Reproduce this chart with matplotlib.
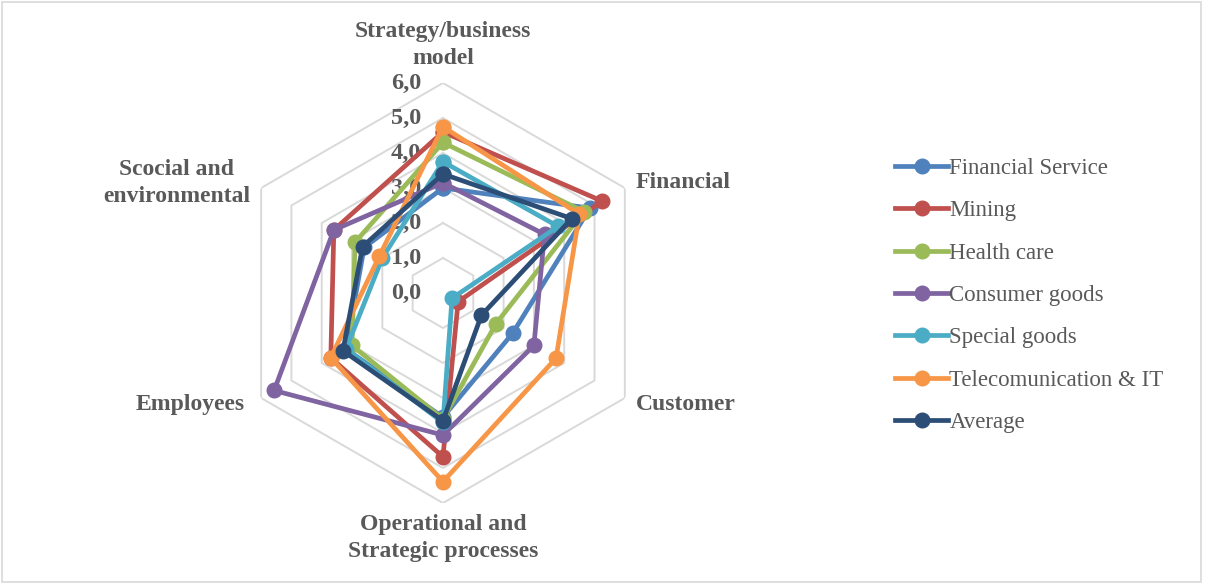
import numpy as np
import matplotlib
matplotlib.use("Agg")
import matplotlib.pyplot as plt
from matplotlib.patches import Rectangle

plt.rcParams['font.family'] = ['Liberation Serif', 'DejaVu Serif']

categories = ['Strategy/business\nmodel', 'Financial', 'Customer',
              'Operational and\nStrategic processes', 'Employees',
              'Scocial and\nenvironmental']
series_names = ['Financial Service', 'Mining', 'Health care', 'Consumer goods',
                'Special goods', 'Telecomunication & IT', 'Average']
financial_service = [3.0, 4.85, 2.3, 3.55, 3.2, 2.6]
mining = [4.6, 5.25, 0.5, 4.68, 3.7, 3.6]
health_care = [4.3, 4.65, 1.75, 3.6, 3.0, 2.9]
consumer_goods = [3.15, 3.35, 3.0, 4.06, 5.57, 3.6]
special_goods = [3.75, 3.8, 0.3, 3.7, 3.2, 2.0]
telecom_it = [4.75, 4.5, 3.73, 5.39, 3.7, 2.1]
average = [3.4, 4.25, 1.27, 3.65, 3.3, 2.65]
tick_values = [0, 1, 2, 3, 4, 5, 6]
tick_labels = ['0,0', '1,0', '2,0', '3,0', '4,0', '5,0', '6,0']

colors = ['#4F81BD', '#C0504D', '#9BBB59', '#8064A2', '#4BACC6', '#F79646', '#2C4D75']
text_col = '#595959'

fig = plt.figure(figsize=(12.05, 5.84), dpi=100)
fig.patches.append(Rectangle((0.002, 0.003), 0.995, 0.993, transform=fig.transFigure,
                             fill=False, edgecolor='#D9D9D9', linewidth=1.2))

ax = fig.add_axes([0.3676 - 0.1743, 0.4983 - 0.3596, 0.3486, 0.7192], projection='polar')
ax.set_theta_offset(np.pi / 2)
ax.set_theta_direction(-1)
ax.set_ylim(0, 6)
ax.grid(False)
ax.spines['polar'].set_visible(False)
ax.set_xticks([])
ax.set_yticks([])
ax.patch.set_alpha(0)

n = len(categories)
angles = np.linspace(0, 2 * np.pi, n, endpoint=False)
closed = np.append(angles, angles[0])

# hexagonal gridlines
for r in tick_values[1:]:
    ax.plot(closed, [r] * (n + 1), color='#D9D9D9', lw=1.4, zorder=1)

# value labels left of the vertical axis
for v, lab in zip(tick_values, tick_labels):
    ax.annotate(lab, xy=(0, v), xytext=(-22, 0), textcoords='offset pixels',
                ha='right', va='center', fontsize=17.5, fontweight='bold',
                color=text_col, zorder=2)

data = [financial_service, mining, health_care, consumer_goods,
        special_goods, telecom_it, average]
for i, (name, vals, c) in enumerate(zip(series_names, data, colors)):
    v = np.append(vals, vals[0])
    ax.plot(closed, v, color=c, lw=3.4, marker='o', markersize=10.5,
            label=name, zorder=3 + i, clip_on=False)

# category labels
offsets = [((0, 14), 'center', 'bottom'), ((11, 5), 'left', 'center'),
           ((11, -7), 'left', 'center'), ((0, -11), 'center', 'top'),
           ((-16, -7), 'right', 'center'), ((-11, 5), 'right', 'center')]
for a, cat, (off, ha, va) in zip(angles, categories, offsets):
    ax.annotate(cat, xy=(a, 6), xytext=off, textcoords='offset pixels',
                ha=ha, va=va, multialignment='center', fontsize=17,
                fontweight='bold', color=text_col, linespacing=1.35)

leg = fig.legend(loc='center left', bbox_to_anchor=(0.726, 0.494), frameon=False,
                 fontsize=16.5, handlelength=2.3, handletextpad=0.05,
                 labelspacing=0.93, labelcolor=text_col)

fig.savefig('out.png', dpi=100)
